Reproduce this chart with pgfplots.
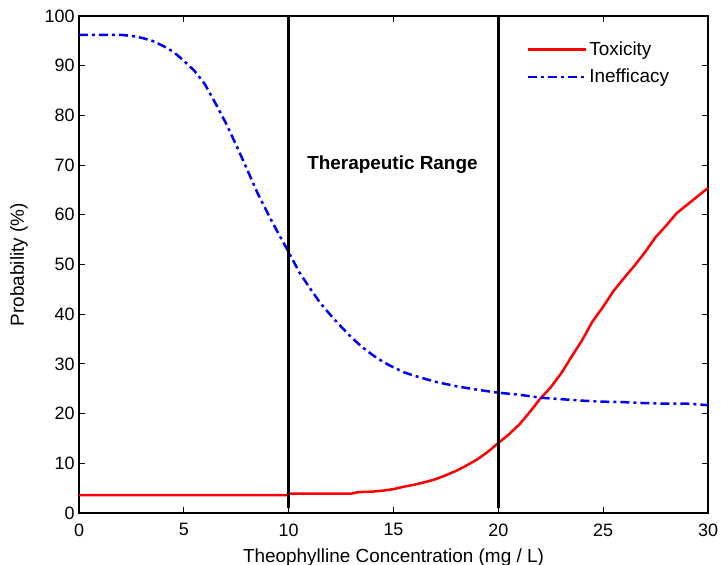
\documentclass[border=0pt]{standalone}
\usepackage{pgfplots}
\pgfplotsset{compat=1.18}
\usepackage{fontspec}
\setmainfont{Liberation Sans}
\begin{document}
\begin{tikzpicture}
\begin{axis}[
  scale only axis,
  width=629bp, height=497bp,
  xmin=0, xmax=30, ymin=0, ymax=100,
  xtick={0,5,...,30}, ytick={0,10,...,100},
  tick align=inside,
  major tick length=6bp,
  axis line style={line width=1.2bp},
  tick style={line width=0.8bp, black},
  /pgf/number format/assume math mode=true,
  ticklabel style={font=\fontsize{18}{20}\selectfont},
  xticklabel style={yshift=-7bp},
  yticklabel style={xshift=-1bp},
  label style={font=\fontsize{19}{21}\selectfont},
  xlabel={Theophylline Concentration (mg / L)},
  ylabel={Probability (\%)},
  xlabel style={at={(axis description cs:0.5,0)}, anchor=base, yshift=-49bp},
  ylabel style={yshift=10bp},
  legend style={at={(0.707,0.956)}, anchor=north west, draw=none, fill=none,
    font=\fontsize{19}{21}\selectfont, row sep=8bp},
  legend cell align=left,
  legend image code/.code={\draw[#1] (0cm,0cm) -- (58bp,0cm);},
  clip=false,
]
\addplot[red, line width=2.5bp] coordinates {
(0,3.6)(9.9,3.6)(10,3.9)(13,3.9)(13.3,4.2)(14,4.3)(14.5,4.5)(15,4.8)(15.5,5.3)(16,5.7)(16.5,6.2)(17,6.8)(17.5,7.6)(18,8.5)(18.5,9.6)(19,10.8)(19.5,12.3)(20,14.1)(20.5,15.8)(21,17.8)(21.5,20.3)(22,23.0)(22.5,25.3)(23,28.1)(23.5,31.5)(24,34.8)(24.5,38.6)(25,41.5)(25.5,44.7)(26,47.3)(26.5,49.8)(27,52.5)(27.5,55.5)(28,57.8)(28.5,60.3)(29,62.0)(29.5,63.7)(30,65.4)};
\addlegendentry{Toxicity}
\addplot[blue, line width=2.5bp, dash pattern=on 9bp off 4bp on 3bp off 4bp] coordinates {
(0,96.2)(1,96.2)(2,96.2)(2.5,96.0)(3,95.6)(3.5,95.0)(4,94.0)(4.5,92.8)(5,91.0)(5.5,89.0)(6,86.3)(6.5,82.5)(7,78.5)(7.5,74.0)(8,69.3)(8.5,64.5)(9,60.3)(9.5,56.3)(10,52.5)(10.5,48.5)(11,45.3)(11.5,42.3)(12,39.8)(12.5,37.5)(13,35.3)(13.5,33.4)(14,31.8)(14.5,30.4)(15,29.3)(15.5,28.3)(16,27.6)(17,26.4)(18,25.5)(19,24.8)(20,24.2)(21,23.8)(22,23.2)(23,22.9)(24,22.6)(25,22.4)(26,22.3)(27,22.1)(28,22.0)(29,22.0)(30,21.7)};
\addlegendentry{Inefficacy}
\addplot[black, line width=2.5bp, forget plot] coordinates {(10,1)(10,100)};
\addplot[black, line width=2.5bp, forget plot] coordinates {(20,1)(20,100)};
\node[font=\bfseries\fontsize{19}{21}\selectfont] at (axis cs:14.95,70) {Therapeutic Range};
\coordinate (ll) at (rel axis cs:0,0);
\coordinate (ur) at (rel axis cs:1,1);
\end{axis}
\pgfresetboundingbox
\path ([shift={(-79bp,-52bp)}]ll) rectangle ([shift={(13bp,16bp)}]ur);
\end{tikzpicture}
\end{document}
